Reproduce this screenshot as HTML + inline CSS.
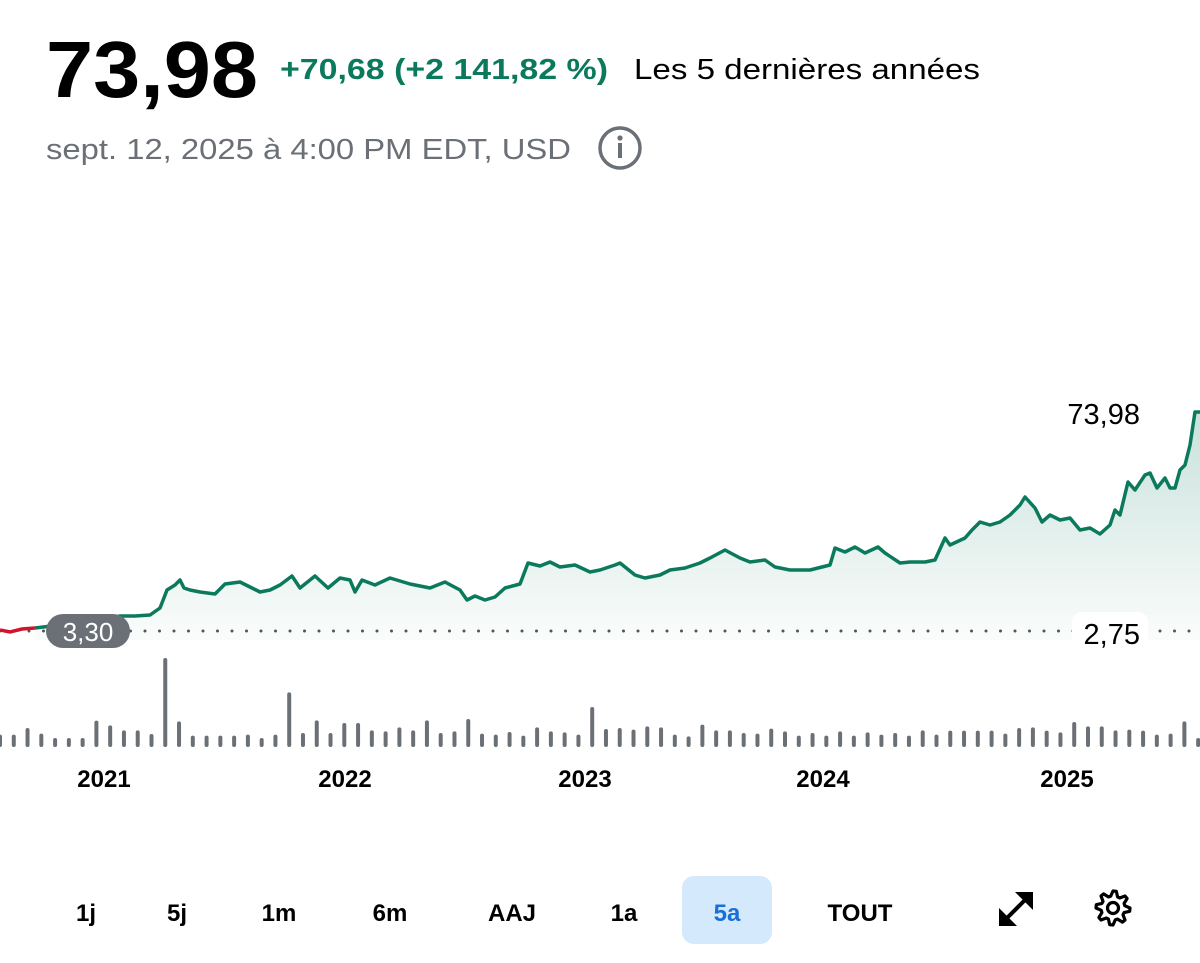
<!DOCTYPE html>
<html><head><meta charset="utf-8"><style>
html,body{margin:0;padding:0;background:#fff;width:1200px;height:963px;overflow:hidden}
svg{display:block}
text{font-family:"Liberation Sans",sans-serif}
</style></head><body>
<svg id="s" width="1200" height="963" viewBox="0 0 1200 963" xmlns="http://www.w3.org/2000/svg">
<defs>
<linearGradient id="g" x1="0" y1="0" x2="0" y2="1">
<stop offset="0" stop-color="#0b7a5c" stop-opacity="0.22"/>
<stop offset="1" stop-color="#0b7a5c" stop-opacity="0.02"/>
</linearGradient>
</defs>
<text x="46" y="97" font-size="80" font-weight="bold" fill="#000" textLength="212" lengthAdjust="spacingAndGlyphs">73,98</text>
<text x="280" y="79" font-size="29" font-weight="bold" fill="#0b7a5c" textLength="328" lengthAdjust="spacingAndGlyphs">+70,68 (+2 141,82 %)</text>
<text x="634" y="79" font-size="29" fill="#000" textLength="346" lengthAdjust="spacingAndGlyphs">Les 5 dernières années</text>
<text x="46" y="159" font-size="29" fill="#6b7077" textLength="525" lengthAdjust="spacingAndGlyphs">sept. 12, 2025 à 4:00 PM EDT, USD</text>
<circle cx="620" cy="148" r="20" fill="none" stroke="#6b7077" stroke-width="3.5"/>
<circle cx="620" cy="138" r="2.6" fill="#6b7077"/>
<rect x="618" y="143" width="4" height="15" fill="#6b7077"/>

<g id="area"></g>
<line x1="0" y1="631" x2="1200" y2="631" stroke="#555" stroke-width="3" stroke-dasharray="0 14.5" stroke-linecap="round"/>
<g id="line"></g>
<rect x="46" y="614" width="84" height="34" rx="17" fill="#6b7077"/>
<text x="88" y="641" font-size="26" fill="#fff" text-anchor="middle">3,30</text>
<rect x="1072" y="612" width="76" height="38" rx="10" fill="#fff"/>
<text x="1140" y="644" font-size="29" fill="#000" text-anchor="end">2,75</text>
<text x="1140" y="424" font-size="29" fill="#000" text-anchor="end">73,98</text>
<g id="vol" fill="#6b7077"></g>

<g font-size="24" font-weight="bold" fill="#000" text-anchor="middle">
<text x="104" y="787">2021</text><text x="345" y="787">2022</text><text x="585" y="787">2023</text><text x="823" y="787">2024</text><text x="1067" y="787">2025</text>
</g>
<rect x="682" y="876" width="90" height="68" rx="12" fill="#d4e9fc"/>
<g font-size="24" font-weight="bold" fill="#000" text-anchor="middle">
<text x="86" y="921">1j</text><text x="177" y="921">5j</text><text x="279" y="921">1m</text><text x="390" y="921">6m</text><text x="512" y="921">AAJ</text><text x="624" y="921">1a</text><text x="727" y="921" fill="#1a6fd6">5a</text><text x="860" y="921">TOUT</text>
</g>
<line x1="1004" y1="921" x2="1028" y2="897" stroke="#000" stroke-width="4"/>
<polygon points="999,926 999,908 1017,926" fill="#000"/>
<polygon points="1033,892 1033,910 1015,892" fill="#000"/>
<g transform="translate(1113,908)">
<path id="gear" fill="none" stroke="#000" stroke-width="3.2" stroke-linejoin="round"/>
<circle r="5.5" fill="none" stroke="#000" stroke-width="3.2"/>
</g>
</svg>
<script>
var pts=[[35,628],[60,625],[90,622],[120,616],[135,616],[150,615],[160,608],[167,590],[175,585],[180,580],[184,588],[190,590],[200,592],[215,594],[225,584],[240,582],[250,587],[260,592],[270,590],[280,585],[292,576],[300,588],[315,576],[328,588],[340,578],[350,580],[355,592],[362,580],[375,585],[390,578],[410,584],[430,588],[445,582],[460,590],[467,600],[475,596],[485,600],[495,597],[505,588],[520,584],[528,563],[540,566],[550,562],[560,567],[575,565],[590,572],[600,570],[615,565],[620,563],[635,575],[645,578],[660,575],[670,570],[685,568],[700,563],[710,558],[725,550],[740,558],[750,562],[765,560],[775,567],[790,570],[810,570],[830,565],[835,548],[845,552],[855,547],[865,553],[878,547],[885,553],[900,563],[910,562],[925,562],[935,560],[945,538],[950,545],[965,538],[972,530],[980,522],[990,525],[1000,522],[1010,515],[1020,505],[1025,497],[1035,508],[1042,522],[1050,515],[1060,520],[1070,518],[1080,530],[1090,528],[1100,534],[1110,525],[1115,510],[1120,515],[1128,482],[1135,490],[1145,475],[1150,473],[1157,488],[1165,478],[1170,488],[1175,488],[1180,470],[1185,465],[1190,445],[1195,412],[1200,412]];
var ns="http://www.w3.org/2000/svg";
function el(t,a,p){var e=document.createElementNS(ns,t);for(var k in a)e.setAttribute(k,a[k]);document.getElementById(p).appendChild(e);return e;}
var d=pts.map(function(p){return p.join(",")}).join(" ");
el("polygon",{points:"35,640 "+d+" 1200,640",fill:"url(#g)"},"area");
el("polyline",{points:"0,630 10,632 22,629 35,628",fill:"none",stroke:"#d0142c","stroke-width":3.5},"line");
el("polyline",{points:d,fill:"none",stroke:"#0b7a5c","stroke-width":3.5,"stroke-linejoin":"round"},"line");
var tops=[255,255,235,252,265,265,265,213,227,242,242,253,25,215,258,258,258,258,255,265,255,128,250,212,250,220,220,242,245,233,242,212,250,245,208,252,255,247,258,233,245,248,255,172,238,235,240,230,233,255,260,225,242,242,250,252,237,245,258,250,258,245,258,248,255,250,258,242,255,243,243,243,243,252,235,233,243,248,217,230,230,242,240,243,255,252,215,265];
for(var i=0;i<tops.length;i++){var x=i*18/1.307,h=(292-tops[i])/3;el("rect",{x:x-2,y:747-h,width:4,height:h,rx:2},"vol");}
// gear
var g="",n=8;for(var j=0;j<n*4;j++){var a=(j/(n*4))*2*Math.PI, r=(j%4<2)?17:12;var a2=a+ (j%4==0||j%4==2?0:0);g+=(j?"L":"M")+(r*Math.cos(a)).toFixed(2)+","+(r*Math.sin(a)).toFixed(2);}
document.getElementById("gear").setAttribute("d",g+"Z");
</script>
</body></html>
